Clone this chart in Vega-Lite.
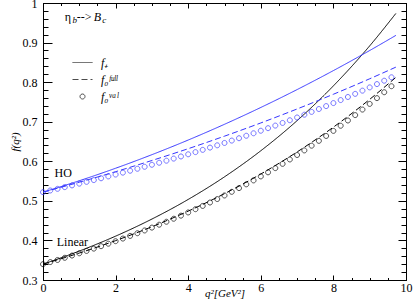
{
  "$schema": "https://vega.github.io/schema/vega-lite/v6.json",
  "width": 363,
  "height": 277,
  "autosize": {"type": "none"},
  "padding": {"left": 43, "top": 3, "right": 9, "bottom": 25},
  "background": "white",
  "config": {
    "view": {"stroke": "black", "strokeWidth": 1},
    "font": "Liberation Serif",
    "axis": {"labelFont": "Liberation Serif", "labelFontSize": 12, "labelColor": "black", "domainColor": "black", "tickColor": "black", "grid": false, "titleFont": "Liberation Serif", "titleFontWeight": "normal", "titleFontStyle": "italic", "titleFontSize": 11, "titleColor": "black"}
  },
  "datasets": {
    "curves": [
      {"model": "Linear", "type": "f₊", "q2": 0, "f": 0.34},
      {"model": "Linear", "type": "f₊", "q2": 1, "f": 0.3731},
      {"model": "Linear", "type": "f₊", "q2": 2, "f": 0.4108},
      {"model": "Linear", "type": "f₊", "q2": 3, "f": 0.454},
      {"model": "Linear", "type": "f₊", "q2": 4, "f": 0.5036},
      {"model": "Linear", "type": "f₊", "q2": 5, "f": 0.5607},
      {"model": "Linear", "type": "f₊", "q2": 6, "f": 0.6266},
      {"model": "Linear", "type": "f₊", "q2": 7, "f": 0.7027},
      {"model": "Linear", "type": "f₊", "q2": 8, "f": 0.7906},
      {"model": "Linear", "type": "f₊", "q2": 9, "f": 0.8917},
      {"model": "Linear", "type": "f₊", "q2": 9.72, "f": 0.9735},
      {"model": "Linear", "type": "f₀ᶠᵘˡˡ", "q2": 0, "f": 0.34},
      {"model": "Linear", "type": "f₀ᶠᵘˡˡ", "q2": 1, "f": 0.3681},
      {"model": "Linear", "type": "f₀ᶠᵘˡˡ", "q2": 2, "f": 0.3995},
      {"model": "Linear", "type": "f₀ᶠᵘˡˡ", "q2": 3, "f": 0.4346},
      {"model": "Linear", "type": "f₀ᶠᵘˡˡ", "q2": 4, "f": 0.474},
      {"model": "Linear", "type": "f₀ᶠᵘˡˡ", "q2": 5, "f": 0.5182},
      {"model": "Linear", "type": "f₀ᶠᵘˡˡ", "q2": 6, "f": 0.5678},
      {"model": "Linear", "type": "f₀ᶠᵘˡˡ", "q2": 7, "f": 0.6236},
      {"model": "Linear", "type": "f₀ᶠᵘˡˡ", "q2": 8, "f": 0.6863},
      {"model": "Linear", "type": "f₀ᶠᵘˡˡ", "q2": 9, "f": 0.7565},
      {"model": "Linear", "type": "f₀ᶠᵘˡˡ", "q2": 9.72, "f": 0.812},
      {"model": "HO", "type": "f₊", "q2": 0, "f": 0.522},
      {"model": "HO", "type": "f₊", "q2": 1, "f": 0.5508},
      {"model": "HO", "type": "f₊", "q2": 2, "f": 0.5824},
      {"model": "HO", "type": "f₊", "q2": 3, "f": 0.6167},
      {"model": "HO", "type": "f₊", "q2": 4, "f": 0.6537},
      {"model": "HO", "type": "f₊", "q2": 5, "f": 0.6935},
      {"model": "HO", "type": "f₊", "q2": 6, "f": 0.736},
      {"model": "HO", "type": "f₊", "q2": 7, "f": 0.7812},
      {"model": "HO", "type": "f₊", "q2": 8, "f": 0.8292},
      {"model": "HO", "type": "f₊", "q2": 9, "f": 0.8799},
      {"model": "HO", "type": "f₊", "q2": 9.72, "f": 0.9181},
      {"model": "HO", "type": "f₀ᶠᵘˡˡ", "q2": 0, "f": 0.522},
      {"model": "HO", "type": "f₀ᶠᵘˡˡ", "q2": 1, "f": 0.5471},
      {"model": "HO", "type": "f₀ᶠᵘˡˡ", "q2": 2, "f": 0.5737},
      {"model": "HO", "type": "f₀ᶠᵘˡˡ", "q2": 3, "f": 0.602},
      {"model": "HO", "type": "f₀ᶠᵘˡˡ", "q2": 4, "f": 0.6318},
      {"model": "HO", "type": "f₀ᶠᵘˡˡ", "q2": 5, "f": 0.6635},
      {"model": "HO", "type": "f₀ᶠᵘˡˡ", "q2": 6, "f": 0.6969},
      {"model": "HO", "type": "f₀ᶠᵘˡˡ", "q2": 7, "f": 0.7322},
      {"model": "HO", "type": "f₀ᶠᵘˡˡ", "q2": 8, "f": 0.7694},
      {"model": "HO", "type": "f₀ᶠᵘˡˡ", "q2": 9, "f": 0.8085},
      {"model": "HO", "type": "f₀ᶠᵘˡˡ", "q2": 9.72, "f": 0.8379}
    ],
    "circles": [
      {"model": "Linear", "type": "f₀ᵛᵃˡ", "q2": 0, "f": 0.34},
      {"model": "Linear", "type": "f₀ᵛᵃˡ", "q2": 0.2, "f": 0.3453},
      {"model": "Linear", "type": "f₀ᵛᵃˡ", "q2": 0.4, "f": 0.3506},
      {"model": "Linear", "type": "f₀ᵛᵃˡ", "q2": 0.6, "f": 0.3561},
      {"model": "Linear", "type": "f₀ᵛᵃˡ", "q2": 0.8, "f": 0.3618},
      {"model": "Linear", "type": "f₀ᵛᵃˡ", "q2": 1.0, "f": 0.3675},
      {"model": "Linear", "type": "f₀ᵛᵃˡ", "q2": 1.2, "f": 0.3734},
      {"model": "Linear", "type": "f₀ᵛᵃˡ", "q2": 1.4, "f": 0.3793},
      {"model": "Linear", "type": "f₀ᵛᵃˡ", "q2": 1.6, "f": 0.3855},
      {"model": "Linear", "type": "f₀ᵛᵃˡ", "q2": 1.8, "f": 0.3917},
      {"model": "Linear", "type": "f₀ᵛᵃˡ", "q2": 2.0, "f": 0.3981},
      {"model": "Linear", "type": "f₀ᵛᵃˡ", "q2": 2.2, "f": 0.4047},
      {"model": "Linear", "type": "f₀ᵛᵃˡ", "q2": 2.4, "f": 0.4114},
      {"model": "Linear", "type": "f₀ᵛᵃˡ", "q2": 2.6, "f": 0.4182},
      {"model": "Linear", "type": "f₀ᵛᵃˡ", "q2": 2.8, "f": 0.4252},
      {"model": "Linear", "type": "f₀ᵛᵃˡ", "q2": 3.0, "f": 0.4324},
      {"model": "Linear", "type": "f₀ᵛᵃˡ", "q2": 3.2, "f": 0.4397},
      {"model": "Linear", "type": "f₀ᵛᵃˡ", "q2": 3.4, "f": 0.4472},
      {"model": "Linear", "type": "f₀ᵛᵃˡ", "q2": 3.6, "f": 0.4548},
      {"model": "Linear", "type": "f₀ᵛᵃˡ", "q2": 3.8, "f": 0.4626},
      {"model": "Linear", "type": "f₀ᵛᵃˡ", "q2": 4.0, "f": 0.4707},
      {"model": "Linear", "type": "f₀ᵛᵃˡ", "q2": 4.2, "f": 0.4789},
      {"model": "Linear", "type": "f₀ᵛᵃˡ", "q2": 4.4, "f": 0.4872},
      {"model": "Linear", "type": "f₀ᵛᵃˡ", "q2": 4.6, "f": 0.4958},
      {"model": "Linear", "type": "f₀ᵛᵃˡ", "q2": 4.8, "f": 0.5046},
      {"model": "Linear", "type": "f₀ᵛᵃˡ", "q2": 5.0, "f": 0.5136},
      {"model": "Linear", "type": "f₀ᵛᵃˡ", "q2": 5.2, "f": 0.5228},
      {"model": "Linear", "type": "f₀ᵛᵃˡ", "q2": 5.4, "f": 0.5322},
      {"model": "Linear", "type": "f₀ᵛᵃˡ", "q2": 5.6, "f": 0.5418},
      {"model": "Linear", "type": "f₀ᵛᵃˡ", "q2": 5.8, "f": 0.5517},
      {"model": "Linear", "type": "f₀ᵛᵃˡ", "q2": 6.0, "f": 0.5618},
      {"model": "Linear", "type": "f₀ᵛᵃˡ", "q2": 6.2, "f": 0.5721},
      {"model": "Linear", "type": "f₀ᵛᵃˡ", "q2": 6.4, "f": 0.5827},
      {"model": "Linear", "type": "f₀ᵛᵃˡ", "q2": 6.6, "f": 0.5935},
      {"model": "Linear", "type": "f₀ᵛᵃˡ", "q2": 6.8, "f": 0.6046},
      {"model": "Linear", "type": "f₀ᵛᵃˡ", "q2": 7.0, "f": 0.6159},
      {"model": "Linear", "type": "f₀ᵛᵃˡ", "q2": 7.2, "f": 0.6275},
      {"model": "Linear", "type": "f₀ᵛᵃˡ", "q2": 7.4, "f": 0.6394},
      {"model": "Linear", "type": "f₀ᵛᵃˡ", "q2": 7.6, "f": 0.6516},
      {"model": "Linear", "type": "f₀ᵛᵃˡ", "q2": 7.8, "f": 0.664},
      {"model": "Linear", "type": "f₀ᵛᵃˡ", "q2": 8.0, "f": 0.6768},
      {"model": "Linear", "type": "f₀ᵛᵃˡ", "q2": 8.2, "f": 0.6898},
      {"model": "Linear", "type": "f₀ᵛᵃˡ", "q2": 8.4, "f": 0.7031},
      {"model": "Linear", "type": "f₀ᵛᵃˡ", "q2": 8.6, "f": 0.7167},
      {"model": "Linear", "type": "f₀ᵛᵃˡ", "q2": 8.8, "f": 0.7307},
      {"model": "Linear", "type": "f₀ᵛᵃˡ", "q2": 9.0, "f": 0.745},
      {"model": "Linear", "type": "f₀ᵛᵃˡ", "q2": 9.2, "f": 0.7596},
      {"model": "Linear", "type": "f₀ᵛᵃˡ", "q2": 9.4, "f": 0.7745},
      {"model": "Linear", "type": "f₀ᵛᵃˡ", "q2": 9.6, "f": 0.7897},
      {"model": "HO", "type": "f₀ᵛᵃˡ", "q2": 0, "f": 0.522},
      {"model": "HO", "type": "f₀ᵛᵃˡ", "q2": 0.2, "f": 0.5262},
      {"model": "HO", "type": "f₀ᵛᵃˡ", "q2": 0.4, "f": 0.5304},
      {"model": "HO", "type": "f₀ᵛᵃˡ", "q2": 0.6, "f": 0.5347},
      {"model": "HO", "type": "f₀ᵛᵃˡ", "q2": 0.8, "f": 0.5391},
      {"model": "HO", "type": "f₀ᵛᵃˡ", "q2": 1.0, "f": 0.5435},
      {"model": "HO", "type": "f₀ᵛᵃˡ", "q2": 1.2, "f": 0.548},
      {"model": "HO", "type": "f₀ᵛᵃˡ", "q2": 1.4, "f": 0.5525},
      {"model": "HO", "type": "f₀ᵛᵃˡ", "q2": 1.6, "f": 0.5571},
      {"model": "HO", "type": "f₀ᵛᵃˡ", "q2": 1.8, "f": 0.5618},
      {"model": "HO", "type": "f₀ᵛᵃˡ", "q2": 2.0, "f": 0.5665},
      {"model": "HO", "type": "f₀ᵛᵃˡ", "q2": 2.2, "f": 0.5713},
      {"model": "HO", "type": "f₀ᵛᵃˡ", "q2": 2.4, "f": 0.5761},
      {"model": "HO", "type": "f₀ᵛᵃˡ", "q2": 2.6, "f": 0.5811},
      {"model": "HO", "type": "f₀ᵛᵃˡ", "q2": 2.8, "f": 0.5861},
      {"model": "HO", "type": "f₀ᵛᵃˡ", "q2": 3.0, "f": 0.5912},
      {"model": "HO", "type": "f₀ᵛᵃˡ", "q2": 3.2, "f": 0.5963},
      {"model": "HO", "type": "f₀ᵛᵃˡ", "q2": 3.4, "f": 0.6015},
      {"model": "HO", "type": "f₀ᵛᵃˡ", "q2": 3.6, "f": 0.6068},
      {"model": "HO", "type": "f₀ᵛᵃˡ", "q2": 3.8, "f": 0.6122},
      {"model": "HO", "type": "f₀ᵛᵃˡ", "q2": 4.0, "f": 0.6177},
      {"model": "HO", "type": "f₀ᵛᵃˡ", "q2": 4.2, "f": 0.6232},
      {"model": "HO", "type": "f₀ᵛᵃˡ", "q2": 4.4, "f": 0.6289},
      {"model": "HO", "type": "f₀ᵛᵃˡ", "q2": 4.6, "f": 0.6346},
      {"model": "HO", "type": "f₀ᵛᵃˡ", "q2": 4.8, "f": 0.6404},
      {"model": "HO", "type": "f₀ᵛᵃˡ", "q2": 5.0, "f": 0.6463},
      {"model": "HO", "type": "f₀ᵛᵃˡ", "q2": 5.2, "f": 0.6523},
      {"model": "HO", "type": "f₀ᵛᵃˡ", "q2": 5.4, "f": 0.6583},
      {"model": "HO", "type": "f₀ᵛᵃˡ", "q2": 5.6, "f": 0.6645},
      {"model": "HO", "type": "f₀ᵛᵃˡ", "q2": 5.8, "f": 0.6708},
      {"model": "HO", "type": "f₀ᵛᵃˡ", "q2": 6.0, "f": 0.6772},
      {"model": "HO", "type": "f₀ᵛᵃˡ", "q2": 6.2, "f": 0.6837},
      {"model": "HO", "type": "f₀ᵛᵃˡ", "q2": 6.4, "f": 0.6902},
      {"model": "HO", "type": "f₀ᵛᵃˡ", "q2": 6.6, "f": 0.6969},
      {"model": "HO", "type": "f₀ᵛᵃˡ", "q2": 6.8, "f": 0.7037},
      {"model": "HO", "type": "f₀ᵛᵃˡ", "q2": 7.0, "f": 0.7107},
      {"model": "HO", "type": "f₀ᵛᵃˡ", "q2": 7.2, "f": 0.7177},
      {"model": "HO", "type": "f₀ᵛᵃˡ", "q2": 7.4, "f": 0.7248},
      {"model": "HO", "type": "f₀ᵛᵃˡ", "q2": 7.6, "f": 0.7321},
      {"model": "HO", "type": "f₀ᵛᵃˡ", "q2": 7.8, "f": 0.7395},
      {"model": "HO", "type": "f₀ᵛᵃˡ", "q2": 8.0, "f": 0.7471},
      {"model": "HO", "type": "f₀ᵛᵃˡ", "q2": 8.2, "f": 0.7547},
      {"model": "HO", "type": "f₀ᵛᵃˡ", "q2": 8.4, "f": 0.7625},
      {"model": "HO", "type": "f₀ᵛᵃˡ", "q2": 8.6, "f": 0.7704},
      {"model": "HO", "type": "f₀ᵛᵃˡ", "q2": 8.8, "f": 0.7785},
      {"model": "HO", "type": "f₀ᵛᵃˡ", "q2": 9.0, "f": 0.7867},
      {"model": "HO", "type": "f₀ᵛᵃˡ", "q2": 9.2, "f": 0.7951},
      {"model": "HO", "type": "f₀ᵛᵃˡ", "q2": 9.4, "f": 0.8036},
      {"model": "HO", "type": "f₀ᵛᵃˡ", "q2": 9.6, "f": 0.8123}
    ],
    "notes": [
      {"q2": 0.6, "f": 0.965, "t": "η"},
      {"q2": 0.93, "f": 0.965, "t": "-->"},
      {"q2": 0.32, "f": 0.57, "t": "HO"},
      {"q2": 0.38, "f": 0.397, "t": "Linear"}
    ],
    "italics": [
      {"q2": 1.4, "f": 0.965, "t": "B"}
    ],
    "subs": [
      {"q2": 0.81, "f": 0.956, "t": "b"},
      {"q2": 1.63, "f": 0.956, "t": "c"}
    ]
  },
  "layer": [
    {
      "data": {"name": "curves"},
      "mark": {"type": "line", "interpolate": "monotone", "strokeWidth": 1},
      "encoding": {
        "x": {"field": "q2", "type": "quantitative", "scale": {"domain": [0, 10], "nice": false, "zero": false},
          "axis": {"orient": "bottom", "values": [0,0.5,1,1.5,2,2.5,3,3.5,4,4.5,5,5.5,6,6.5,7,7.5,8,8.5,9,9.5,10],
            "tickSize": {"condition": {"test": "datum.value % 2 === 0", "value": -5}, "value": -2.5},
            "labelExpr": "datum.value % 2 === 0 ? format(datum.value, 'd') : ''",
            "labelPadding": 7, "labelFlush": false, "labelOverlap": false, "title": "q²[GeV²]", "titleY": 7, "titleBaseline": "top"}},
        "y": {"field": "f", "type": "quantitative", "scale": {"domain": [0.3, 1], "nice": false, "zero": false},
          "axis": {"orient": "left", "values": [0.3,0.32,0.34,0.36,0.38,0.4,0.42,0.44,0.46,0.48,0.5,0.52,0.54,0.56,0.58,0.6,0.62,0.64,0.66,0.68,0.7,0.72,0.74,0.76,0.78,0.8,0.82,0.84,0.86,0.88,0.9,0.92,0.94,0.96,0.98,1],
            "tickSize": {"condition": {"test": "abs(datum.value*10 - round(datum.value*10)) < 0.001", "value": -9}, "value": -5},
            "labelExpr": "abs(datum.value*10 - round(datum.value*10)) < 0.001 ? format(datum.value, '.1~f') : ''",
            "labelPadding": 15, "labelFlush": false, "labelOverlap": false, "title": "f(q²)", "titlePadding": 2}},
        "color": {"field": "model", "type": "nominal", "scale": {"domain": ["HO", "Linear"], "range": ["#3535ff", "black"]}, "legend": null},
        "strokeDash": {"field": "type", "type": "nominal", "scale": {"domain": ["f₊", "f₀ᶠᵘˡˡ", "f₀ᵛᵃˡ"], "range": [[1, 0], [6, 3], [1, 0]]},
          "legend": {"orient": "none", "legendX": 29, "legendY": 49, "title": null, "symbolSize": 400, "symbolStrokeColor": "black", "symbolStrokeWidth": 1, "symbolFillColor": "transparent", "labelFont": "Liberation Serif", "labelFontSize": 12, "labelFontStyle": "italic", "labelOffset": 8, "rowPadding": -9, "padding": 0}}
      }
    },
    {
      "data": {"name": "circles"},
      "mark": {"type": "point", "filled": false, "strokeWidth": 1, "size": 400},
      "encoding": {
        "x": {"field": "q2", "type": "quantitative",
          "axis": {"orient": "top", "values": [0,0.5,1,1.5,2,2.5,3,3.5,4,4.5,5,5.5,6,6.5,7,7.5,8,8.5,9,9.5,10],
            "tickSize": {"condition": {"test": "datum.value % 2 === 0", "value": -5}, "value": -2.5},
            "labels": false, "title": null}},
        "y": {"field": "f", "type": "quantitative",
          "axis": {"orient": "right", "values": [0.3,0.32,0.34,0.36,0.38,0.4,0.42,0.44,0.46,0.48,0.5,0.52,0.54,0.56,0.58,0.6,0.62,0.64,0.66,0.68,0.7,0.72,0.74,0.76,0.78,0.8,0.82,0.84,0.86,0.88,0.9,0.92,0.94,0.96,0.98,1],
            "tickSize": {"condition": {"test": "abs(datum.value*10 - round(datum.value*10)) < 0.001", "value": -8}, "value": -5},
            "labels": false, "title": null}},
        "color": {"field": "model", "type": "nominal", "scale": {"domain": ["HO", "Linear"], "range": ["#3535ff", "black"]}, "legend": null},
        "shape": {"field": "type", "type": "nominal", "scale": {"domain": ["f₊", "f₀ᶠᵘˡˡ", "f₀ᵛᵃˡ"], "range": ["stroke", "stroke", "M0.25,0A0.25,0.25,0,1,1,-0.25,0A0.25,0.25,0,1,1,0.25,0Z"]},
          "legend": {"orient": "none", "legendX": 29, "legendY": 49, "title": null, "symbolSize": 400, "symbolStrokeColor": "black", "symbolStrokeWidth": 1, "symbolFillColor": "transparent", "labelFont": "Liberation Serif", "labelFontSize": 12, "labelFontStyle": "italic", "labelOffset": 8, "rowPadding": -9, "padding": 0}}
      }
    },
    {
      "data": {"name": "notes"},
      "mark": {"type": "text", "align": "left", "baseline": "middle", "font": "Liberation Serif", "fontSize": 12, "color": "black"},
      "encoding": {
        "x": {"field": "q2", "type": "quantitative", "axis": null},
        "y": {"field": "f", "type": "quantitative", "axis": null},
        "text": {"field": "t"}
      }
    },
    {
      "data": {"name": "italics"},
      "mark": {"type": "text", "align": "left", "baseline": "middle", "font": "Liberation Serif", "fontSize": 12, "fontStyle": "italic", "color": "black"},
      "encoding": {
        "x": {"field": "q2", "type": "quantitative", "axis": null},
        "y": {"field": "f", "type": "quantitative", "axis": null},
        "text": {"field": "t"}
      }
    },
    {
      "data": {"name": "subs"},
      "mark": {"type": "text", "align": "left", "baseline": "middle", "font": "Liberation Serif", "fontSize": 9, "fontStyle": "italic", "color": "black"},
      "encoding": {
        "x": {"field": "q2", "type": "quantitative", "axis": null},
        "y": {"field": "f", "type": "quantitative", "axis": null},
        "text": {"field": "t"}
      }
    }
  ],
  "resolve": {"axis": {"x": "independent", "y": "independent"}}
}
